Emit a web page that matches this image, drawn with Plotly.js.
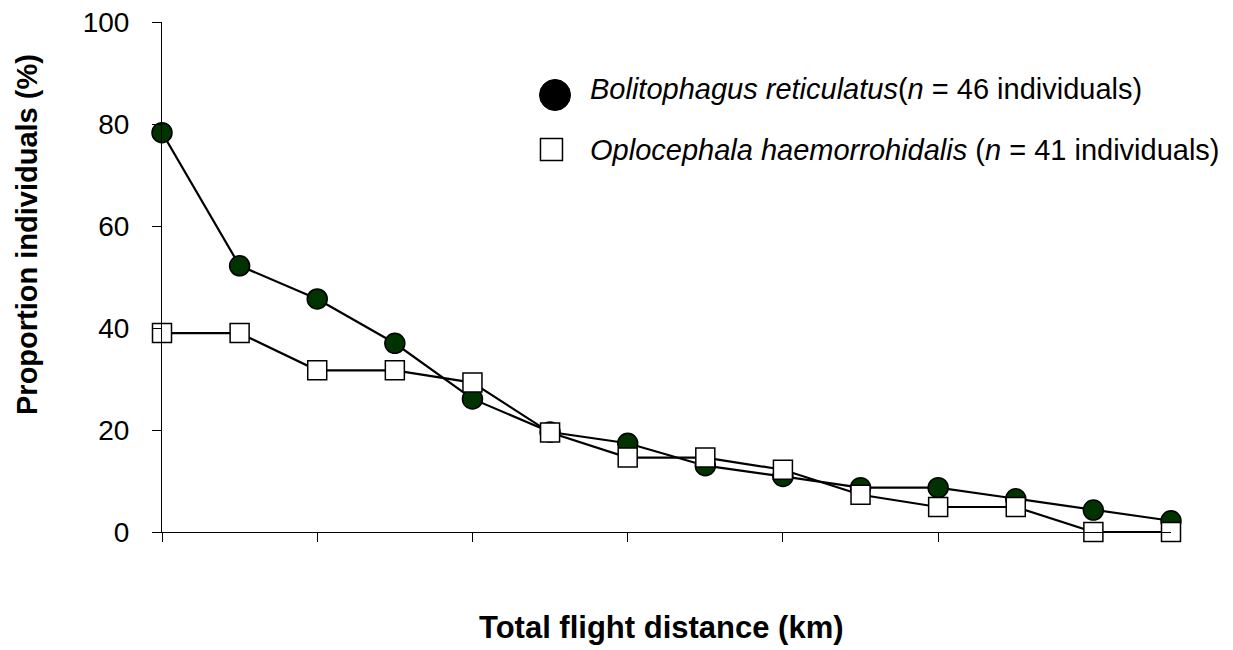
<!DOCTYPE html>
<html>
<head>
<meta charset="utf-8">
<script src="https://cdn.plot.ly/plotly-3.0.1.min.js"></script>
<style>html,body{margin:0;padding:0;background:#fff;}#chart{width:1233px;height:650px;}</style>
</head>
<body>
<div id="chart"></div>
<script>
// Distance classes (no labels shown on the axis)
const distanceClass = [1, 2, 3, 4, 5, 6, 7, 8, 9, 10, 11, 12, 13, 14];
// Bolitophagus reticulatus (n = 46), % individuals
const bolitophagus = [78.3, 52.2, 45.7, 37.0, 26.1, 19.6, 17.4, 13.0, 10.9, 8.7, 8.7, 6.5, 4.3, 2.2];
// Oplocephala haemorrohidalis (n = 41), % individuals
const oplocephala = [39.0, 39.0, 31.7, 31.7, 29.3, 19.5, 14.6, 14.6, 12.2, 7.3, 4.9, 4.9, 0.0, 0.0];
const xTickVals = [1, 3, 5, 7, 9, 11];
const yTickVals = [0, 20, 40, 60, 80, 100];
const legendLabels = [
  "<i>Bolitophagus reticulatus</i>(<i>n</i> = 46 individuals)",
  "<i>Oplocephala haemorrohidalis</i> (<i>n</i> = 41 individuals)"
];
const xTitle = "<b>Total flight distance (km)</b>";
const yTitle = "<b>Proportion individuals (%)</b>";

const FONT = "Liberation Sans, Arial, sans-serif";

const traces = [
  {
    x: distanceClass, y: bolitophagus, type: "scatter", mode: "lines+markers",
    line: {color: "#000", width: 2.2},
    marker: {symbol: "circle", size: 20, color: "#003300", line: {color: "#000", width: 1.5}},
    cliponaxis: false, showlegend: false, hoverinfo: "x+y"
  },
  {
    x: distanceClass, y: oplocephala, type: "scatter", mode: "lines+markers",
    line: {color: "#000", width: 2.2},
    marker: {symbol: "square", size: 19, color: "#fff", line: {color: "#000", width: 1.5}},
    cliponaxis: false, showlegend: false, hoverinfo: "x+y"
  }
];

const layout = {
  width: 1233, height: 650,
  margin: {l: 162, r: 62, t: 22, b: 118},
  paper_bgcolor: "#fff", plot_bgcolor: "#fff",
  showlegend: false,
  font: {family: FONT, color: "#000"},
  xaxis: {
    range: [1, 14], showgrid: false, zeroline: false,
    showline: true, linecolor: "#000", linewidth: 1,
    ticks: "outside", ticklen: 9, tickwidth: 1, tickcolor: "#000",
    tickmode: "array", tickvals: xTickVals, showticklabels: false
  },
  yaxis: {
    range: [0, 100], showgrid: false, zeroline: false,
    showline: true, linecolor: "#000", linewidth: 1,
    ticks: "outside", ticklen: 9, tickwidth: 1, tickcolor: "#000",
    tickmode: "array", tickvals: yTickVals,
    tickfont: {family: FONT, size: 28, color: "#000"},
    ticklabelstandoff: 17
  },
  shapes: [
    {type: "circle", xref: "paper", yref: "paper", xsizemode: "pixel", ysizemode: "pixel",
     xanchor: 0.3895, yanchor: 0.8569, x0: -15.5, x1: 15.5, y0: -15.5, y1: 15.5,
     fillcolor: "#000", line: {color: "#000", width: 1}},
    {type: "rect", xref: "paper", yref: "paper", xsizemode: "pixel", ysizemode: "pixel",
     xanchor: 0.3860, yanchor: 0.75, x0: -11, x1: 11, y0: -11, y1: 11,
     fillcolor: "#fff", line: {color: "#000", width: 1.5}}
  ],
  annotations: [
    {xref: "paper", yref: "paper", x: 0.4222, y: 0.8686, xanchor: "left", yanchor: "middle",
     text: legendLabels[0], showarrow: false, font: {family: FONT, size: 29, color: "#000"}},
    {xref: "paper", yref: "paper", x: 0.4222, y: 0.75, xanchor: "left", yanchor: "middle",
     text: legendLabels[1], showarrow: false, font: {family: FONT, size: 29, color: "#000"}},
    {xref: "paper", yref: "paper", x: 0.4955, y: -0.1882, xanchor: "center", yanchor: "middle",
     text: xTitle, showarrow: false, font: {family: FONT, size: 31, color: "#000"}},
    {xref: "paper", yref: "paper", x: -0.1338, y: 0.5843, xanchor: "center", yanchor: "middle",
     textangle: -90, text: yTitle, showarrow: false, font: {family: FONT, size: 29, color: "#000"}}
  ]
};

Plotly.newPlot("chart", traces, layout, {displayModeBar: false, staticPlot: true});
</script>
</body>
</html>
